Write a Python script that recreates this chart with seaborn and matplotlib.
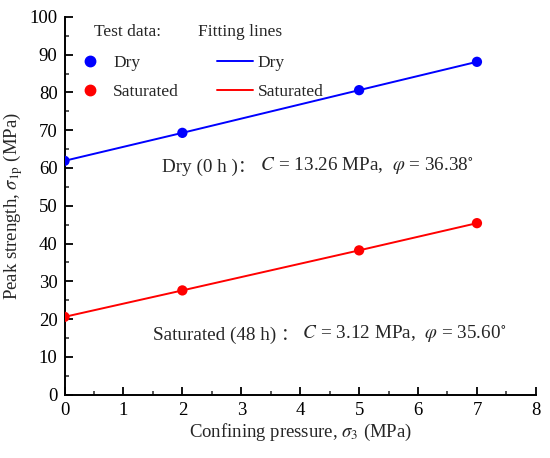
import pandas as pd
import seaborn as sns
import matplotlib.pyplot as plt
from matplotlib.lines import Line2D

# 数据
sigma3 = [0, 2, 5, 7]
dry_strength = [61.9, 69.3, 80.6, 88.1]
sat_strength = [20.6, 27.6, 38.2, 45.4]
conditions = ["Dry", "Saturated"]
colors = ["#0000FF", "#FF0000"]

x_ticks = list(range(0, 9))
y_ticks = list(range(0, 101, 10))

df = pd.DataFrame({
    "sigma3": sigma3 * 2,
    "strength": dry_strength + sat_strength,
    "condition": [conditions[0]] * len(sigma3) + [conditions[1]] * len(sigma3),
})
palette = dict(zip(conditions, colors))

sns.set_style("ticks")
plt.rcParams["font.family"] = ["Liberation Serif", "Noto Sans CJK SC"]
plt.rcParams["mathtext.fontset"] = "stix"

fig = plt.figure(figsize=(5.5, 4.58), dpi=100)
ax = fig.add_axes([0.1173, 0.1382, 0.857, 0.825])

sns.lineplot(data=df, x="sigma3", y="strength", hue="condition", palette=palette,
             linewidth=1.4, legend=False, ax=ax)
sns.scatterplot(data=df, x="sigma3", y="strength", hue="condition", palette=palette,
                s=55, edgecolor="none", legend=False, ax=ax, zorder=3)

ax.set_xlim(0, 8)
ax.set_ylim(0, 100)
ax.set_xticks(x_ticks)
ax.set_yticks(y_ticks)
ax.set_xticks([v + 0.5 for v in x_ticks[:-1]], minor=True)
ax.set_yticks([v + 5 for v in y_ticks[:-1]], minor=True)
ax.tick_params(which="major", direction="in", length=5.5, width=1.3, labelsize=13.5,
               colors="black", pad=5)
ax.tick_params(which="minor", direction="in", length=3, width=1.1)
for s in ["left", "bottom"]:
    ax.spines[s].set_linewidth(1.4)
    ax.spines[s].set_color("black")
sns.despine(ax=ax)

ax.set_xlabel(r"Confining pressure, $\sigma_3$ (MPa)", fontsize=13.5, labelpad=2)
ax.set_ylabel(r"Peak strength, $\sigma_{\mathrm{1p}}$ (MPa)", fontsize=13.5, labelpad=3)

# 图例
handles = [Line2D([], [], marker="o", ls="none", color=c, markersize=7.5) for c in colors]
handles += [Line2D([], [], color=c, lw=1.4) for c in colors]
labels = conditions + conditions
ax.legend(handles, labels, ncol=2, frameon=False, fontsize=12.5,
          loc="upper left", bbox_to_anchor=(0.0015, 0.918),
          handlelength=2.1, handletextpad=0.25, columnspacing=2.2, labelspacing=0.72,
          borderaxespad=0)
ax.text(0.063, 0.961, "Test data:", transform=ax.transAxes, fontsize=12.5, va="center")
ax.text(0.2825, 0.961, "Fitting lines", transform=ax.transAxes, fontsize=12.5, va="center")

# 参数标注
def label(x, y, name, rest):
    t1 = ax.text(x, y, name, fontsize=13.8, va="center")
    t2 = ax.annotate("：", xy=(1, 0), xycoords=t1, va="bottom", fontsize=12.5,
                     family="Noto Sans CJK SC")
    ax.annotate(rest, xy=(1, 0), xycoords=t2, va="bottom", fontsize=13.8)

label(1.66, 60.1, "Dry (0 h )", r" $C$ = 13.26 MPa,  $\varphi$ = 36.38$^{\circ}$")
label(1.50, 15.8, "Saturated (48 h) ", r" $C$ = 3.12 MPa,  $\varphi$ = 35.60$^{\circ}$")

fig.savefig("out.png", dpi=100)
